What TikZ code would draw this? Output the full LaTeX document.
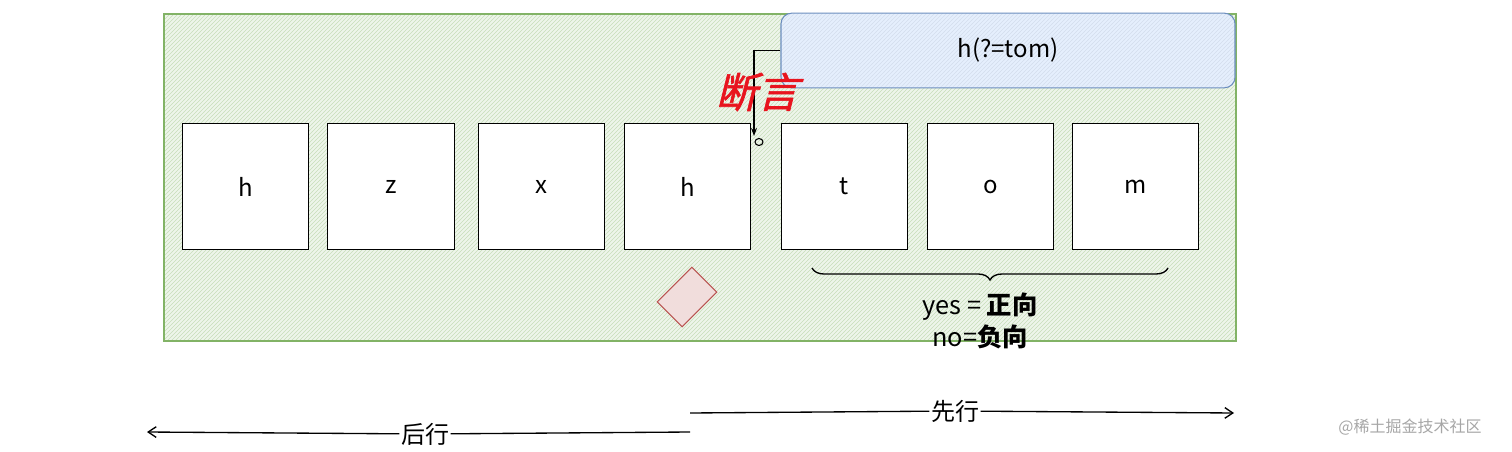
\documentclass[tikz,border=0pt]{standalone}
\usepackage{fontspec}
\setmainfont{Noto Sans CJK SC}
\newfontfamily\cjkslant[FakeSlant=0.25,FakeBold=1.5]{Noto Sans CJK SC}
\usepackage{xcolor}
\usetikzlibrary{arrows.meta}
\usetikzlibrary{patterns}
\usetikzlibrary{decorations.pathreplacing}
\definecolor{frameGreen}{HTML}{82B366}
\definecolor{fillGreen}{HTML}{EEF5EA}
\definecolor{tomBlue}{HTML}{6C8EBF}
\definecolor{fillBlue}{HTML}{DAE8FC}
\definecolor{assertRed}{HTML}{E8141E}
\definecolor{diaRed}{HTML}{B85450}

\begin{document}
\begin{tikzpicture}[x=0.75pt, y=-0.75pt, font=\fontsize{18}{20}\selectfont,
    charbox/.style={draw=black, thick, fill=white, minimum width=95pt, minimum height=95pt, inner sep=0pt},
    dirarrow/.style={-{Straight Barb[length=6pt,width=8pt]}, line width=1pt}]
    \useasboundingbox (0,0) rectangle (1512,452);
    % green frame
    \draw[draw=frameGreen, thick, preaction={fill=fillGreen}, pattern=north east lines, pattern color=frameGreen!45]
    (164,14) rectangle (1236,341);
    % lookahead box
    \node[draw=tomBlue, thick, rounded corners=8pt, preaction={fill=fillBlue!70}, pattern=north east lines,
      pattern color=tomBlue!30, minimum width=340.5pt, minimum height=56pt] (tom) at (1008,50.5) {h(?=tom)};
    % characters
    \node[charbox] (c1) at (245.5,186.5) {h};
    \node[charbox] (c2) at (391,186.5) {z};
    \node[charbox] (c3) at (541.5,186.5) {x};
    \node[charbox] (c4) at (687.5,186.5) {h};
    \node[charbox] (c5) at (844.5,186.5) {t};
    \node[charbox] (c6) at (990.5,186.5) {o};
    \node[charbox] (c7) at (1135.5,186.5) {m};
    % assertion pointer
    \coordinate (tip) at (754,136);
    \draw[thick, -{Stealth[length=6pt]}] (tom.west) -| (tip);
    \draw[thick] (759,142) ellipse (4 and 3.5);
    \node[text=assertRed, font=\fontsize{31}{33}\cjkslant] (assert) at (757,92) {断言};
    % position marker
    \node[draw=diaRed, fill=diaRed!20, thick, minimum width=32pt, minimum height=31pt, inner sep=0pt,
      rotate=45, xscale=1.15, yscale=0.85] (pos) at (687,297) {};
    % brace under tom
    \draw[line width=1pt, decorate, decoration={brace, amplitude=9pt, mirror}] (812,268) -- node[below=9pt] (brc) {} (1168,268);
    \node[font=\fontsize{19}{21}\selectfont] (yes) at (980,307) {yes = \textbf{正向}};
    \node[font=\fontsize{19}{21}\selectfont] (no) at (980,337) {no=\textbf{负向}};
    % directions
    \node[fill=white, inner sep=1pt, font=\fontsize{18}{20}\selectfont] (ahead) at (955,411) {先行};
    \node[fill=white, inner sep=1pt, font=\fontsize{18}{20}\selectfont] (behind) at (425,434) {后行};
    \coordinate (aheadStart) at (690,413);
    \coordinate (aheadEnd) at (1234,413);
    \coordinate (behindStart) at (690,432);
    \coordinate (behindEnd) at (147,432);
    \draw[line width=1pt] (aheadStart) -- (ahead);
    \draw[dirarrow] (ahead) -- (aheadEnd);
    \draw[line width=1pt] (behindStart) -- (behind);
    \draw[dirarrow] (behind) -- (behindEnd);
    % watermark
    \node[text=black!35, font=\fontsize{12}{14}\selectfont] (mark) at (1410,427) {@稀土掘金技术社区};
\end{tikzpicture}
\end{document}
